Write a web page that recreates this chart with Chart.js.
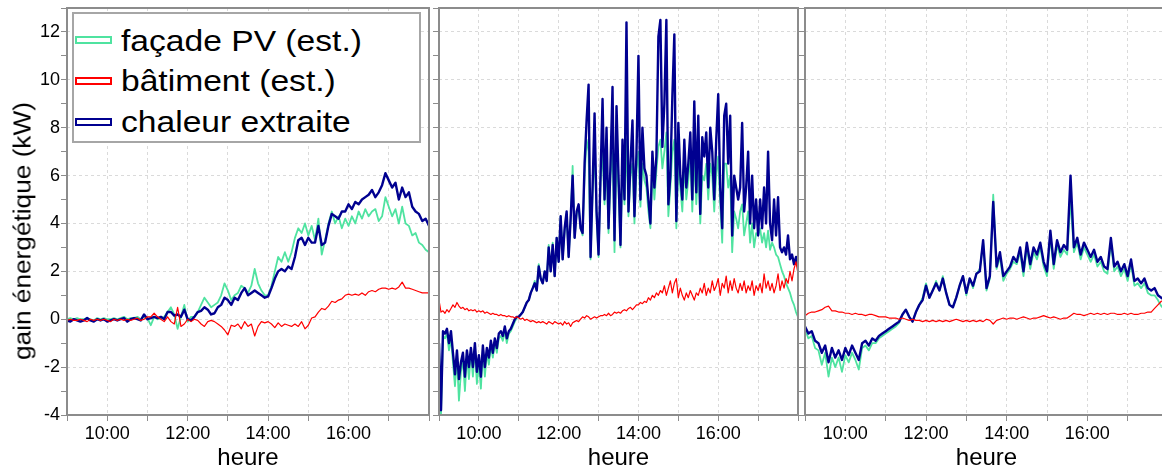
<!DOCTYPE html>
<html lang="fr">
<head>
<meta charset="utf-8">
<title>gain énergétique</title>
<script src="https://cdn.jsdelivr.net/npm/chart.js@4.4.1/dist/chart.umd.min.js"></script>
<style>
html, body { margin: 0; padding: 0; width: 1162px; height: 473px; overflow: hidden; background: #fff; }
body { position: relative; font-family: "Liberation Sans", Arial, sans-serif; color: #000; }
.panneau { position: absolute; top: 0; height: 473px; }
#p1 { left: 0; width: 432px; }
#p2 { left: 432px; width: 369px; }
#p3 { left: 798px; width: 373px; }
#titreY {
    position: absolute; left: 23px; top: 231px; white-space: nowrap;
    font-size: 23px; line-height: 23px;
    transform: translate(-50%, -50%) rotate(-90deg) scaleX(1.14);
}
#legende {
    position: absolute; left: 72px; top: 12px; width: 349px; height: 131px;
    box-sizing: border-box; border: 2px solid #a6a6a6; background: #fff;
}
.echantillon {
    position: absolute; left: 1px; width: 37px; height: 8px;
    box-sizing: border-box; border: 2px solid; background: #fff;
}
.texte {
    position: absolute; left: 47px; font-size: 30px; line-height: 30px; white-space: nowrap;
    transform: scaleX(1.12); transform-origin: 0 50%;
}
</style>
</head>
<body>
<div id="p1" class="panneau"><canvas id="c1" width="432" height="473"></canvas></div>
<div id="p2" class="panneau"><canvas id="c2" width="369" height="473"></canvas></div>
<div id="p3" class="panneau"><canvas id="c3" width="373" height="473"></canvas></div>
<div id="titreY">gain énergétique (kW)</div>
<div id="legende"></div>

<script>
// relevés depuis 9:00, un point toutes les "pas" minutes
const debut = 9;
const pasPanneau1 = 5;
const pasPanneau2 = 3;
const pasPanneau3 = 5;

const nomsSeries = ['façade PV (est.)', 'bâtiment (est.)', 'chaleur extraite'];
const couleursSeries = ['#4fe3a0', '#ff0000', '#000090'];

const heuresEtiquetees = [10, 12, 14, 16];
const etiquettesHeures = ['10:00', '12:00', '14:00', '16:00'];

// panneau 1
const vert1 = [
    0, 0.05, 0, 0.05, 0, 0, 0.05, 0, -0.05, 0.05,
    0, 0.05, 0, 0, 0.05, 0, 0.05, 0.1, 0, 0.05,
    0.05, 0.1, 0, 0.1, 0.05, -0.25, 0.1, 0, 0.05, 0.1,
    0.3, 0.5, 0.2, -0.4, 0.1, 0.6, -0.1, 0.1, 0.1, 0.3,
    0.6, 0.9, 0.7, 0.5, 0.6, 0.7, 1.0, 1.5, 1.2, 0.8,
    1.0, 1.1, 1.4, 1.3, 1.1, 1.4, 2.1, 1.5, 1.2, 1.0,
    1.0, 1.4, 2.0, 2.6, 2.4, 2.8, 2.4, 2.8, 3.4, 3.8,
    3.6, 4.0, 3.5, 3.9, 3.3, 4.2, 2.7, 3.3, 4.0, 4.5,
    4.0, 4.3, 3.8, 4.2, 3.9, 4.3, 4.0, 4.5, 4.2, 4.6,
    4.3, 4.5, 4.6, 4.1, 4.3, 5.1, 4.7, 4.3, 4.6, 4.0,
    4.7, 4.0, 3.9, 3.5, 3.6, 3.2, 3.1, 2.9, 2.8
];
const rouge1 = [
    -0.05, 0, -0.05, -0.05, 0, -0.05, -0.1, 0, -0.05, 0,
    -0.05, 0, -0.05, -0.1, 0, -0.05, 0, -0.05, 0, -0.05,
    0, 0.05, -0.05, 0, 0.1, 0.1, 0.25, 0.1, 0, -0.1,
    0.1, -0.1, -0.2, 0.5, -0.3, -0.2, 0, -0.1, 0, -0.05,
    -0.2, -0.3, -0.1, -0.05, -0.1, -0.2, -0.3, -0.45, -0.65, -0.25,
    -0.3, -0.2, -0.4, -0.1, -0.3, -0.2, -0.7, -0.3, -0.1, -0.15,
    -0.1, -0.2, -0.35, -0.15, -0.3, -0.2, -0.25, -0.3, -0.2, -0.3,
    -0.1, -0.4, -0.25, 0.05, 0.1, 0.3, 0.45, 0.4, 0.55, 0.75,
    0.7, 0.8, 0.85, 1.0, 1.05, 1.0, 1.05, 1.0, 1.1, 1.0,
    1.15, 1.2, 1.15, 1.25, 1.3, 1.3, 1.25, 1.3, 1.25, 1.35,
    1.55, 1.3, 1.3, 1.25, 1.2, 1.15, 1.1, 1.1, 1.1
];
const bleu1 = [
    -0.05, -0.1, 0, -0.05, -0.1, -0.05, 0.05, -0.05, -0.1, 0,
    -0.05, 0, -0.1, -0.05, 0, -0.05, 0, 0.05, -0.1, 0,
    0.05, 0, -0.05, 0.2, 0, 0.05, 0.1, 0.05, 0.1, 0,
    0.3, 0.3, 0.15, 0.2, 0.1, 0.4, 0, -0.05, 0.1, 0.3,
    0.35, 0.5, 0.4, 0.2, 0.25, 0.5, 0.6, 0.9, 0.8, 0.6,
    0.9, 0.8, 1.1, 1.3, 1.0, 1.1, 1.2, 1.1, 1.0, 0.9,
    0.95, 1.3, 1.7, 2.0, 2.1, 2.0, 2.2, 2.1, 2.6, 3.3,
    3.4, 3.1, 3.4, 3.2, 3.2, 3.9, 3.1, 3.2, 3.9, 4.4,
    4.3, 4.2, 4.5, 4.5, 4.8, 4.6, 4.9, 4.8, 5.0, 5.1,
    5.2, 5.4, 5.1, 5.3, 5.6, 6.1, 5.8, 5.5, 5.7, 5.0,
    5.5, 5.1, 5.3, 4.7, 4.5, 4.4, 4.1, 4.2, 3.9
];

// panneau 2
const vert2 = [
    -1.2, -4.0, -0.7, -0.8, -0.6, -1.3, -0.8, -1.8, -2.8, -1.6,
    -3.4, -2.2, -1.7, -3.0, -1.5, -2.5, -1.4, -2.4, -1.2, -2.7,
    -1.8, -2.9, -1.3, -2.4, -1.4, -1.9, -1.1, -1.6, -1.0, -1.4,
    -0.8, -0.7, -0.9, -0.5, -1.0, -0.6, -0.5, -0.3, -0.1, 0.05,
    0.1, 0.2, 0.3, 0.5, 0.7, 0.8, 1.1, 1.3, 1.6, 1.2,
    2.3, 1.7, 1.5, 2.0, 1.6, 3.1, 2.0, 3.2, 1.8, 3.4,
    2.4, 4.3, 2.5, 3.7, 4.4, 2.6, 4.1, 6.4, 3.4, 4.4,
    4.7, 3.8, 3.5, 6.0, 7.5, 7.0, 2.5, 5.3, 7.0, 4.3,
    2.6, 5.8, 7.0, 4.8, 6.5, 3.6, 6.0, 7.0, 2.8, 6.5,
    5.5, 3.0, 6.5, 4.8, 7.5, 4.3, 6.0, 6.5, 4.0, 6.2,
    7.0, 4.7, 6.5, 5.8, 5.5, 4.5, 3.8, 6.3, 5.0, 6.2,
    7.2, 7.5, 6.3, 7.0, 7.8, 4.3, 5.5, 7.0, 7.5, 3.8,
    6.5, 5.5, 4.5, 6.5, 5.0, 5.8, 6.8, 4.5, 6.8, 4.8,
    6.5, 4.0, 6.0, 5.8, 6.5, 5.0, 6.5, 6.0, 4.5, 6.0,
    6.8, 4.8, 3.2, 6.5, 6.5, 5.5, 6.0, 2.8, 4.5, 4.2,
    3.8, 4.5, 4.8, 3.5, 4.0, 4.5, 3.2, 4.0, 3.0, 3.6,
    3.5, 3.8, 3.2, 3.6, 3.0, 3.7, 2.9, 3.2, 3.0, 2.7,
    2.6, 2.3, 2.0, 1.8, 1.5, 1.3, 1.1, 0.8, 0.6, 0.3,
    0.1
];
const rouge2 = [
    0.8, 0.3, 0.35, 0.25, 0.4, 0.3, 0.45, 0.6, 0.5, 0.7,
    0.55, 0.45, 0.5, 0.4, 0.45, 0.35, 0.4, 0.35, 0.4, 0.3,
    0.35, 0.3, 0.35, 0.25, 0.3, 0.25, 0.2, 0.25, 0.2, 0.2,
    0.15, 0.2, 0.15, 0.15, 0.1, 0.15, 0.1, 0.1, 0.05, 0.1,
    0.05, 0.0, 0.05, -0.05, 0.0, -0.05, -0.1, -0.05, -0.1, -0.15,
    -0.1, -0.15, -0.1, -0.15, -0.2, -0.1, -0.15, -0.2, -0.1, -0.15,
    -0.2, -0.15, -0.25, -0.1, -0.2, -0.15, -0.3, -0.15, -0.1, -0.05,
    -0.1, 0.0, 0.1, 0.05, 0.15, 0.1, 0.0, 0.05, 0.1, 0.05,
    0.1, 0.15, 0.15, 0.2, 0.15, 0.25, 0.15, 0.2, 0.3, 0.25,
    0.3, 0.25, 0.35, 0.4, 0.35, 0.45, 0.5, 0.4, 0.5, 0.6,
    0.6, 0.7, 0.65, 0.75, 0.7, 0.9, 0.8, 1.0, 0.9, 1.1,
    1.0, 1.2, 1.1, 1.4, 1.0, 1.3, 1.6, 1.1, 1.5, 1.7,
    0.9, 1.3, 1.0, 0.8, 1.1, 0.9, 1.2, 1.0, 0.8, 1.1,
    1.0, 1.3, 1.1, 1.5, 1.0, 1.3, 1.1, 1.6, 1.2, 1.4,
    1.7, 1.0, 1.5, 1.3, 1.8, 1.1, 1.6, 1.2, 1.7, 1.3,
    1.1, 1.5, 1.2, 1.6, 1.1, 1.4, 1.2, 1.6, 1.0, 1.4,
    1.2, 1.5, 1.1, 1.9, 1.3, 1.6, 1.2, 1.5, 1.1, 1.4,
    1.9, 1.2, 1.6, 1.3, 1.7, 1.5, 2.0, 1.6, 2.1, 2.4,
    1.9
];
const bleu2 = [
    -1.0, -3.8, -0.5, -0.6, -0.4, -1.0, -0.5, -1.4, -2.3, -1.3,
    -2.5, -1.8, -1.4, -2.4, -1.3, -2.0, -1.2, -2.0, -1.0, -2.2,
    -1.5, -2.4, -1.1, -2.0, -1.2, -1.6, -0.9, -1.4, -0.8, -1.2,
    -0.6, -0.5, -0.7, -0.3, -0.8, -0.5, -0.4, -0.2, 0.0, 0.1,
    0.1, 0.2, 0.3, 0.5, 0.7, 0.8, 1.1, 1.3, 1.5, 1.2,
    2.2, 1.7, 1.5, 2.0, 1.6, 3.0, 2.0, 3.1, 1.8, 3.4,
    2.4, 4.3, 2.5, 3.8, 4.5, 2.6, 4.2, 6.0, 3.4, 4.5,
    4.8, 3.8, 3.6, 6.5, 8.3, 9.8, 2.6, 5.5, 8.6, 4.5,
    2.7, 6.0, 9.2, 5.0, 8.0, 3.8, 6.5, 9.7, 3.3, 8.9,
    6.0, 3.1, 7.5, 5.0, 12.4, 4.5, 6.5, 8.3, 4.3, 6.9,
    11.0, 5.0, 8.0, 6.3, 6.0, 5.0, 4.0, 7.0, 5.5, 6.8,
    11.8, 12.5, 7.2, 9.0, 12.5, 4.8, 6.0, 9.3, 11.9, 4.1,
    8.2, 6.0, 5.0, 7.5, 5.5, 6.5, 7.8, 5.0, 9.1, 5.3,
    8.5, 4.4, 7.6, 6.8, 7.8, 5.5, 8.0, 7.0, 5.0, 7.5,
    9.4, 5.5, 3.8, 8.5, 9.0, 6.5, 8.5, 3.5, 6.0, 5.5,
    5.0, 5.5, 8.2, 4.5, 5.5, 7.0, 4.0, 6.0, 3.8, 5.0,
    3.5, 5.0, 3.8, 5.5, 4.0, 7.0, 4.0, 3.3, 5.0, 3.5,
    5.1, 3.0, 2.8, 3.0, 2.7, 3.5, 2.5, 2.7, 2.3, 2.6,
    2.2
];

// panneau 3
const vert3 = [
    -0.4, -0.8, -0.7, -1.2, -1.3, -1.9, -1.4, -2.4, -1.6, -2.0,
    -1.6, -2.2, -1.5, -1.8, -1.4, -1.7, -2.1, -1.2, -1.1, -1.3,
    -1.0, -1.0, -0.8, -0.7, -0.6, -0.5, -0.4, -0.3, -0.15, 0.2,
    0.4, 0.1, -0.1, 0.3, 0.6, 0.9, 1.5, 0.9, 1.2, 1.6,
    1.2, 1.8, 1.1, 0.6, 0.5, 0.9, 1.4, 1.8, 1.0, 1.7,
    1.3, 1.9, 2.1, 3.2, 1.2, 1.7, 5.2, 2.1, 2.6, 1.6,
    1.9, 2.1, 2.4, 2.3, 2.8, 1.8, 3.0, 2.1, 2.8, 2.5,
    3.0, 2.2, 1.8, 3.4, 2.1, 3.1, 2.6, 2.9, 2.7, 5.0,
    2.8, 3.2, 2.5, 3.0, 2.7, 2.4, 2.7, 2.2, 2.4, 2.0,
    1.9, 3.2, 2.0, 2.2, 1.8, 2.1, 1.6, 2.3, 1.4, 1.5,
    1.3, 1.5, 1.1, 1.0, 1.0, 0.8, 0.55, 0.4, 0.3
];
const rouge3 = [
    0.15, 0.25, 0.3, 0.3, 0.35, 0.4, 0.5, 0.55, 0.35, 0.35,
    0.3, 0.3, 0.25, 0.25, 0.2, 0.25, 0.2, 0.2, 0.15, 0.2,
    0.2, 0.15, 0.1, 0.1, 0.1, 0.05, 0.05, 0.05, 0.0, 0.05,
    0.0, -0.05, 0.0, -0.05, -0.05, -0.1, -0.05, -0.1, -0.05, -0.1,
    -0.05, -0.1, -0.05, -0.1, -0.05, 0.0, -0.05, -0.1, -0.05, -0.1,
    -0.05, -0.1, -0.05, -0.1, 0.0, -0.05, -0.2, -0.05, 0.0, 0.05,
    0.0, 0.05, 0.05, 0.0, 0.05, 0.1, 0.05, 0.0, 0.05, 0.05,
    0.1, 0.15, 0.1, 0.05, 0.1, 0.05, 0.0, 0.05, 0.05, 0.15,
    0.25, 0.2, 0.2, 0.15, 0.2, 0.25, 0.2, 0.25, 0.2, 0.25,
    0.2, 0.25, 0.25, 0.2, 0.2, 0.25, 0.2, 0.25, 0.2, 0.2,
    0.25, 0.25, 0.3, 0.3, 0.45, 0.6, 0.75, 0.8, 0.8
];
const bleu3 = [
    -0.3, -0.6, -0.5, -0.9, -1.0, -1.4, -1.1, -1.8, -1.2, -1.6,
    -1.3, -1.7, -1.2, -1.5, -1.1, -1.4, -1.7, -1.0, -0.9, -1.1,
    -0.8, -0.9, -0.7, -0.6, -0.5, -0.4, -0.3, -0.2, -0.1, 0.2,
    0.4, 0.1, -0.1, 0.3, 0.6, 0.8, 1.4, 0.9, 1.2, 1.5,
    1.2, 1.7, 1.1, 0.6, 0.5, 0.9, 1.4, 1.8, 1.1, 1.7,
    1.4, 1.9, 2.0, 3.3, 1.3, 1.8, 4.9, 2.2, 2.8, 1.8,
    2.0, 2.2, 2.6, 2.4, 3.0, 2.0, 3.2, 2.3, 3.0, 2.7,
    3.2, 2.4, 2.0, 3.7, 2.3, 3.3, 2.8, 3.1, 2.9, 6.0,
    3.0, 3.4, 2.7, 3.2, 2.9, 2.6, 2.9, 2.4, 2.6, 2.2,
    2.1, 3.4, 2.2, 2.4, 2.0, 2.3, 1.8, 2.5, 1.6, 1.7,
    1.5, 1.7, 1.3, 1.2, 1.3, 1.0, 0.9, 0.8, 0.7
];

Chart.defaults.font.family = "'Liberation Sans', Arial, sans-serif";
Chart.defaults.color = '#000';

const couleurCadre = '#8c8c8c';
const couleurGrille = '#dadada';

// cadre gris autour de chaque zone de tracé
const cadre = {
    id: 'cadre',
    afterDatasetsDraw(chart) {
        const { ctx, chartArea: a } = chart;
        ctx.save();
        ctx.strokeStyle = couleurCadre;
        ctx.lineWidth = 2;
        ctx.strokeRect(a.left, a.top, a.right - a.left, a.bottom - a.top);
        ctx.restore();
    }
};

function enPoints(valeurs, pas) {
    return valeurs.map((v, i) => ({ x: debut + i * pas / 60, y: v }));
}

function creerPanneau(idCanvas, vert, rouge, bleu, pas, premier) {
    const ctx = document.getElementById(idCanvas);
    return new Chart(ctx, {
        type: 'line',
        data: {
            // le premier jeu est dessiné au-dessus
            datasets: [
                { label: nomsSeries[1], data: enPoints(rouge, pas), borderColor: couleursSeries[1], borderWidth: 1.2 },
                { label: nomsSeries[2], data: enPoints(bleu, pas), borderColor: couleursSeries[2], borderWidth: 2.4 },
                { label: nomsSeries[0], data: enPoints(vert, pas), borderColor: couleursSeries[0], borderWidth: 1.8 }
            ]
        },
        options: {
            responsive: false,
            animation: false,
            events: [],
            layout: { padding: { top: 8, right: 3, bottom: 0, left: 0 } },
            elements: {
                line: { tension: 0, fill: false, borderJoinStyle: 'round' },
                point: { radius: 0 }
            },
            plugins: { legend: { display: false }, tooltip: { enabled: false } },
            scales: {
                x: {
                    type: 'linear',
                    min: 9,
                    max: 18,
                    afterFit: (s) => { s.height = 58; },
                    border: { display: false, dash: [3, 3] },
                    grid: { color: couleurGrille, tickColor: couleurCadre, tickLength: 6, tickBorderDash: [] },
                    ticks: {
                        stepSize: 1,
                        autoSkip: false,
                        maxRotation: 0,
                        padding: 2,
                        font: { size: 18 },
                        callback: (v) => {
                            const k = heuresEtiquetees.indexOf(v);
                            return k >= 0 ? etiquettesHeures[k] : '';
                        }
                    },
                    title: { display: true, text: 'heure', font: { size: 24 }, padding: { top: 0, bottom: 0 } }
                },
                y: {
                    min: -4,
                    max: 13,
                    afterFit: (s) => { s.width = premier ? 67 : 7; },
                    border: { display: false, dash: [3, 3] },
                    grid: {
                        color: (c) => (c.tick.value % 2 === 0 ? couleurGrille : 'rgba(0,0,0,0)'),
                        tickColor: couleurCadre,
                        tickLength: 6,
                        tickBorderDash: []
                    },
                    ticks: {
                        display: premier,
                        stepSize: 1,
                        autoSkip: false,
                        padding: 1,
                        font: { size: 18, lineHeight: 0.55 },
                        callback: (v) => (v % 2 === 0 ? String(v) : '')
                    }
                }
            }
        },
        plugins: [cadre]
    });
}

creerPanneau('c1', vert1, rouge1, bleu1, pasPanneau1, true);
creerPanneau('c2', vert2, rouge2, bleu2, pasPanneau2, false);
creerPanneau('c3', vert3, rouge3, bleu3, pasPanneau3, false);

// légende dans le premier panneau
const hautsTexte = [12, 52, 93];
const hautsEchantillon = [22, 63, 104];
const legende = document.getElementById('legende');
nomsSeries.forEach((nom, i) => {
    const ech = document.createElement('span');
    ech.className = 'echantillon';
    ech.style.top = hautsEchantillon[i] + 'px';
    ech.style.borderColor = couleursSeries[i];
    legende.appendChild(ech);

    const txt = document.createElement('span');
    txt.className = 'texte';
    txt.style.top = hautsTexte[i] + 'px';
    txt.textContent = nom;
    legende.appendChild(txt);
});
</script>
</body>
</html>
